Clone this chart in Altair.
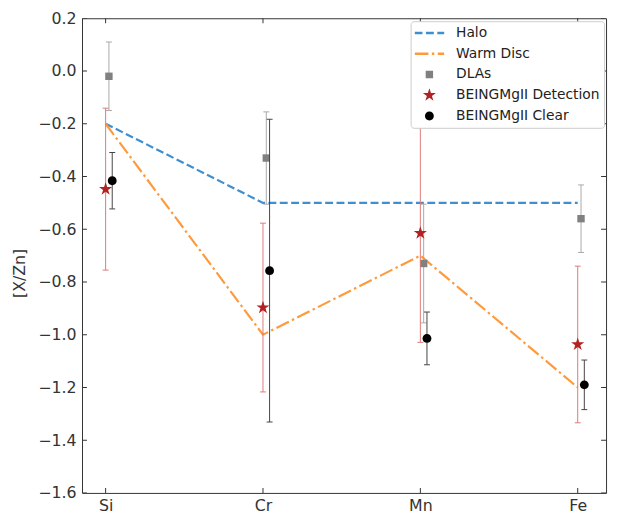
import json
import altair as alt
import pandas as pd

# ---------------- data ----------------
elements = ["Si", "Cr", "Mn", "Fe"]
elem_pos = [0, 1, 2, 3]

series_names = ["Halo", "Warm Disc", "DLAs", "BEINGMgII Detection", "BEINGMgII Clear"]

halo_vals = [-0.20, -0.50, -0.50, -0.50]
warm_disc_vals = [-0.20, -1.00, -0.70, -1.20]

dla_vals = [-0.02, -0.33, -0.73, -0.56]
dla_errs = [0.13, 0.175, 0.225, 0.128]

det_vals = [-0.448, -0.897, -0.615, -1.037]
det_errs = [0.307, 0.320, 0.414, 0.297]

clear_vals = [-0.416, -0.757, -1.014, -1.190]
clear_errs = [0.107, 0.574, 0.100, 0.094]

y_tick_vals = [0.2, 0.0, -0.2, -0.4, -0.6, -0.8, -1.0, -1.2, -1.4, -1.6]
x_domain = [-0.15, 3.18]
y_domain = [-1.6, 0.2]

# ---------------- tables ----------------
line_rows = []
for name, vals in [("Halo", halo_vals), ("Warm Disc", warm_disc_vals)]:
    for p, v in zip(elem_pos, vals):
        line_rows.append({"x": p, "y": v, "series": name})
lines_df = pd.DataFrame(line_rows)

obs_offsets = {"DLAs": 0.021, "BEINGMgII Detection": 0.0, "BEINGMgII Clear": 0.042}
obs_rows = []
for name, vals, errs in [("DLAs", dla_vals, dla_errs),
                         ("BEINGMgII Detection", det_vals, det_errs),
                         ("BEINGMgII Clear", clear_vals, clear_errs)]:
    for p, v, e in zip(elem_pos, vals, errs):
        obs_rows.append({"x": p + obs_offsets[name], "y": v, "lo": v - e, "hi": v + e, "series": name})
obs_df = pd.DataFrame(obs_rows)

# ---------------- styles ----------------
FONT = "DejaVu Sans"
FRAME = "#333333"

LINE_PATH = "M-3,0H3"
SQUARE_PATH = "M-0.75,-0.75H0.75V0.75H-0.75Z"
STAR_PATH = ("M0,-1.4L0.3145,-0.433L1.331,-0.433L0.509,0.165L0.823,1.133L0,0.535"
             "L-0.823,1.133L-0.509,0.165L-1.331,-0.433L-0.3145,-0.433Z")
CIRCLE_PATH = "M-0.9,0A0.9,0.9,0,1,0,0.9,0A0.9,0.9,0,1,0,-0.9,0Z"

stroke_scale = alt.Scale(domain=series_names,
                         range=["#3d8fd1", "#ff9a3c", "transparent", "transparent", "transparent"])
dash_scale = alt.Scale(domain=series_names,
                       range=[[8, 3.5], [14, 3.5, 2.5, 3.5], [1, 0], [1, 0], [1, 0]])
fill_scale = alt.Scale(domain=series_names,
                       range=["transparent", "transparent", "#808080", "#b22222", "#000000"])
shape_scale = alt.Scale(domain=series_names,
                        range=[LINE_PATH, LINE_PATH, SQUARE_PATH, STAR_PATH, CIRCLE_PATH])

err_colors = {"DLAs": "#a9a9a9", "BEINGMgII Detection": "#dd7a7a", "BEINGMgII Clear": "#444444"}

label_expr = json.dumps(elements) + "[round(datum.value)]"


def X(field="x"):
    return alt.X(f"{field}:Q",
                 scale=alt.Scale(domain=x_domain, nice=False, zero=False),
                 axis=alt.Axis(values=elem_pos, labelExpr=label_expr, title=None,
                               ticks=False, grid=False, domain=False, labelPadding=5))


def Y(field="y"):
    return alt.Y(f"{field}:Q",
                 scale=alt.Scale(domain=y_domain, nice=False, zero=False),
                 axis=alt.Axis(values=y_tick_vals, format=".1f", title="[X/Zn]",
                               ticks=False, grid=False, domain=False, labelPadding=6,
                               titleX=-55, titleY=258))


leg = alt.Legend(title=None)

layers = []

# model lines
layers.append(
    alt.Chart(lines_df).mark_line(strokeWidth=2.2).encode(
        x=X(), y=Y(),
        stroke=alt.Stroke("series:N", scale=stroke_scale, legend=leg),
        strokeDash=alt.StrokeDash("series:N", scale=dash_scale, legend=leg),
    )
)

# observations: error bars + markers per series
for name in ["DLAs", "BEINGMgII Detection", "BEINGMgII Clear"]:
    base = alt.Chart(obs_df).transform_filter(alt.datum.series == name)
    col = err_colors[name]
    layers.append(base.mark_rule(color=col, strokeWidth=1, opacity=1).encode(
        x=X(), y=Y("lo"), y2="hi:Q"))
    layers.append(base.mark_tick(orient="horizontal", size=6, thickness=1, color=col, opacity=1).encode(
        x=X(), y=Y("lo")))
    layers.append(base.mark_tick(orient="horizontal", size=6, thickness=1, color=col, opacity=1).encode(
        x=X(), y=Y("hi")))
    layers.append(base.mark_point(filled=True, size=100, opacity=1, strokeWidth=0).encode(
        x=X(), y=Y(),
        fill=alt.Fill("series:N", scale=fill_scale, legend=leg),
        shape=alt.Shape("series:N", scale=shape_scale, legend=leg),
    ))

# inward frame ticks
left_ticks = pd.DataFrame({"y": y_tick_vals, "x": [x_domain[0]] * len(y_tick_vals)})
right_ticks = pd.DataFrame({"y": y_tick_vals, "x": [x_domain[1]] * len(y_tick_vals)})
bottom_ticks = pd.DataFrame({"x": elem_pos, "y": [y_domain[0]] * len(elem_pos)})
top_ticks = pd.DataFrame({"x": elem_pos, "y": [y_domain[1]] * len(elem_pos)})
for df in (left_ticks, right_ticks):
    layers.append(alt.Chart(df).mark_tick(orient="horizontal", size=10, thickness=1,
                                          color=FRAME, opacity=1, clip=True).encode(x=X(), y=Y()))
for df in (bottom_ticks, top_ticks):
    layers.append(alt.Chart(df).mark_tick(orient="vertical", size=10, thickness=1,
                                          color=FRAME, opacity=1, clip=True).encode(x=X(), y=Y()))

chart = alt.layer(*layers).properties(
    width=531, height=481,
    autosize=alt.AutoSizeParams(type="none"),
    padding={"left": 75, "top": 7, "right": 3, "bottom": 22},
).configure_view(
    stroke=FRAME, strokeWidth=1
).configure_axis(
    labelFont=FONT, labelFontSize=16, labelColor="#333333",
    titleFont=FONT, titleFontSize=16, titleFontWeight="normal", titleColor="#333333",
).configure_legend(
    orient="none", legendX=333, legendY=3, padding=4,
    fillColor="white", strokeColor="#cccccc", cornerRadius=3,
    labelFont=FONT, labelFontSize=14, labelColor="#222222",
    symbolSize=100, symbolStrokeWidth=2.5, symbolOpacity=1,
    symbolOffset=8, labelOffset=20, rowPadding=5, clipHeight=16,
)

chart.save("out.html", embed_options={"renderer": "svg", "actions": False})
